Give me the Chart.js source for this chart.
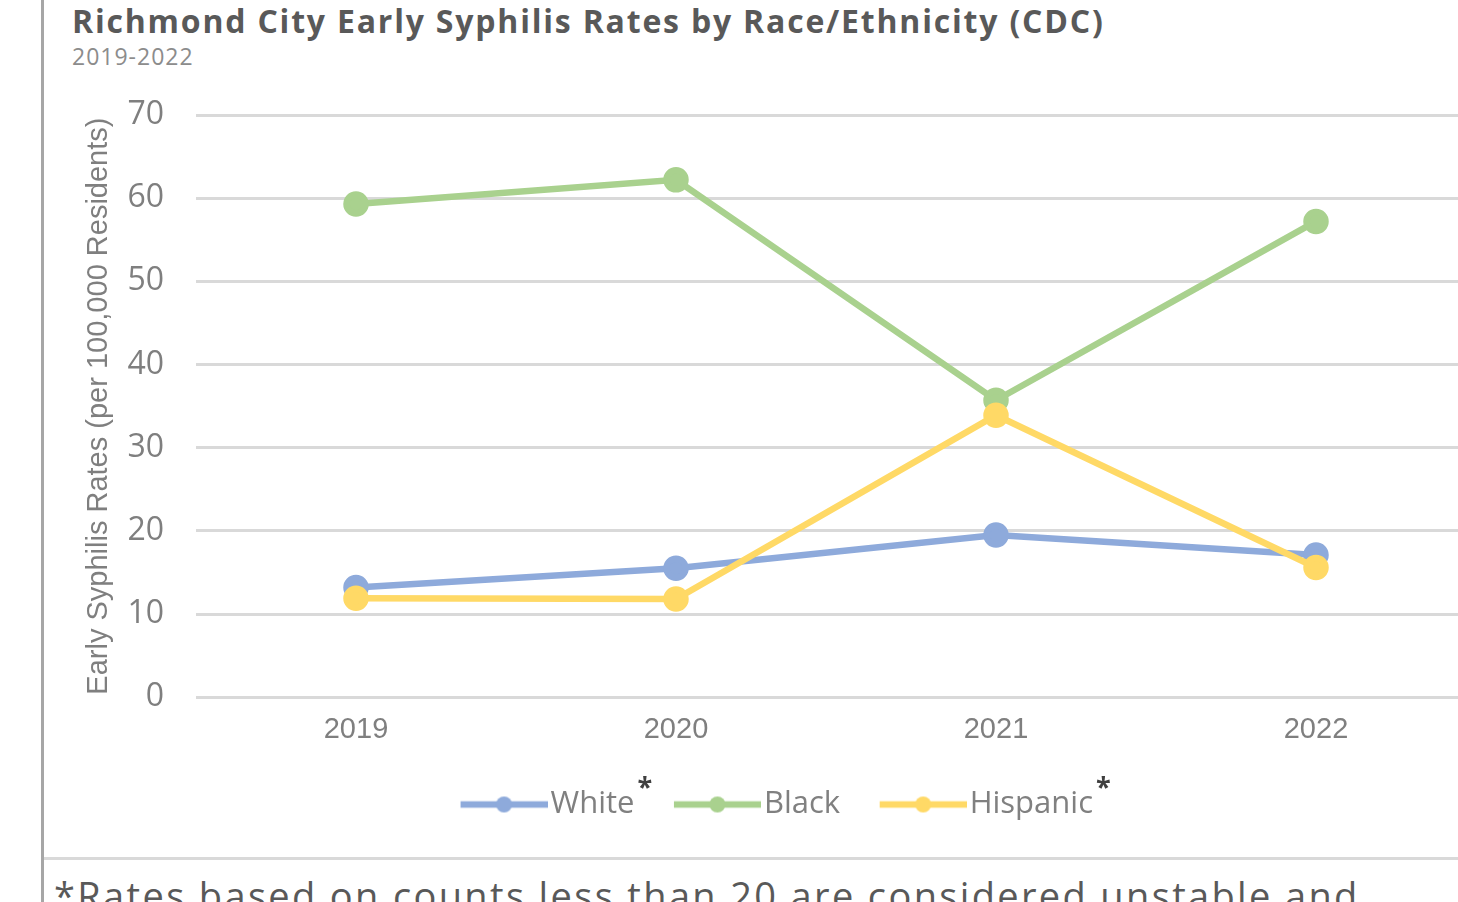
<!DOCTYPE html>
<html>
<head>
<meta charset="utf-8">
<script src="https://cdn.jsdelivr.net/npm/chart.js@4.4.1/dist/chart.umd.min.js"></script>
<style>
  html, body { margin: 0; padding: 0; background: #fff; overflow: hidden; }
  body { width: 1458px; height: 902px; position: relative; }
  .frame-left { position: absolute; left: 41px; top: 0; width: 3px; height: 902px; background: #a6a6a6; }
  .divider { position: absolute; left: 44px; top: 857px; width: 1414px; height: 3px; background: #d9d9d9; }
  .title { position: absolute; left: 72px; top: -1px; font: bold 32px "Open Sans", sans-serif; color: #595959; white-space: nowrap; letter-spacing: 1.8px; }
  .subtitle { position: absolute; left: 72px; top: 40px; font: 23px "Open Sans", sans-serif; color: #8c8c8c; white-space: nowrap; letter-spacing: 1px; }
  .note { position: absolute; left: 54px; top: 869px; font: 38px "Open Sans", sans-serif; color: #595959; white-space: nowrap; letter-spacing: 2.35px; }
  #wrap { position: absolute; left: 44px; top: 0; width: 1448px; height: 850px; }
</style>
</head>
<body>
<div class="frame-left"></div>
<div class="title">Richmond City Early Syphilis Rates by Race/Ethnicity (CDC)</div>
<div class="subtitle">2019-2022</div>
<div id="wrap"><canvas id="c"></canvas></div>
<div class="divider"></div>
<div class="note">*Rates based on counts less than 20 are considered unstable and</div>
<script>
// Early syphilis rates per 100,000 residents, Richmond City
const years = ['2019', '2020', '2021', '2022'];
const white = [13.2, 15.5, 19.5, 17.1];
const black = [59.3, 62.2, 35.7, 57.2];
const hispanic = [11.9, 11.8, 33.9, 15.6];
const seriesNames = ['White', 'Black', 'Hispanic'];
const unstableSeries = ['White', 'Hispanic']; // flagged with an asterisk in the legend
const yTicks = [0, 10, 20, 30, 40, 50, 60, 70];

const colors = { White: '#8eaadb', Black: '#a9d18e', Hispanic: '#ffd966' };
const drawOrder = { White: 2, Black: 1, Hispanic: 0 }; // Hispanic line sits on top

function ds(label, data) {
  return {
    label, data, order: drawOrder[label],
    borderColor: colors[label], backgroundColor: colors[label],
    pointBackgroundColor: colors[label], pointBorderColor: colors[label],
    borderWidth: 6.5, pointRadius: 9.5, pointHoverRadius: 9.5, tension: 0
  };
}

// Legend swatch: a line segment with a round marker, offset so the text sits close to it
const LEG_FONT = 31;
const LEG_BOX = 104;          // legend box width used by the layout
const LEG_OVER = 12.5;        // how far the swatch extends past each side of the box
const LEG_LINE = 87;          // visible swatch length
function swatch(color) {
  const c = document.createElement('canvas');
  c.width = LEG_BOX + 2 * LEG_OVER;
  c.height = 20;
  const g = c.getContext('2d');
  const x1 = c.width, x0 = x1 - LEG_LINE;
  g.strokeStyle = color; g.lineWidth = 6.5;
  g.beginPath(); g.moveTo(x0, 10); g.lineTo(x1, 10); g.stroke();
  g.fillStyle = color;
  g.beginPath(); g.arc((x0 + x1) / 2, 10, 8, 0, Math.PI * 2); g.fill();
  return c;
}

// Draws the asterisk after the flagged legend entries
const asteriskPlugin = {
  id: 'legendAsterisk',
  afterDraw(chart) {
    const lg = chart.legend;
    if (!lg || !lg.legendHitBoxes) return;
    const ctx = chart.ctx;
    ctx.save();
    ctx.font = 'bold 27px "Open Sans", sans-serif';
    ctx.fillStyle = '#404040';
    ctx.textBaseline = 'top';
    lg.legendItems.forEach((item, i) => {
      if (!unstableSeries.includes(item.text)) return;
      const hb = lg.legendHitBoxes[i];
      ctx.fillText('*', hb.left + hb.width + 3, hb.top - 14);
    });
    ctx.restore();
  }
};

new Chart(document.getElementById('c'), {
  type: 'line',
  data: {
    labels: years,
    datasets: [ds(seriesNames[0], white), ds(seriesNames[1], black), ds(seriesNames[2], hispanic)]
  },
  plugins: [asteriskPlugin],
  options: {
    responsive: true, maintainAspectRatio: false, animation: false,
    layout: { padding: { top: 115, left: 0, right: 12, bottom: 20 } },
    plugins: {
      tooltip: { enabled: false },
      legend: {
        position: 'bottom',
        labels: {
          usePointStyle: true,
          pointStyleWidth: LEG_BOX,
          boxHeight: 20,
          font: { size: LEG_FONT, family: '"Open Sans", sans-serif' },
          color: '#808080',
          padding: 10,
          generateLabels(chart) {
            return chart.data.datasets.map((d, i) => ({
              text: d.label, fillStyle: d.borderColor, strokeStyle: d.borderColor,
              pointStyle: swatch(d.borderColor),
              lineWidth: 0, hidden: false, datasetIndex: i, fontColor: '#808080'
            }));
          }
        }
      }
    },
    scales: {
      x: {
        offset: true,
        grid: { display: false },
        border: { display: false },
        afterFit(scale) { scale.height += 25; },
        ticks: { color: '#7f7f7f', font: { size: 29, family: '"Liberation Sans", Arial, sans-serif' }, padding: 7 }
      },
      y: {
        min: 0, max: 70,
        afterBuildTicks(scale) { scale.ticks = yTicks.map(v => ({ value: v })); },
        afterFit(scale) { scale.width = 152; },
        grid: { color: '#d9d9d9', lineWidth: 3, drawTicks: false },
        border: { display: false },
        ticks: { color: '#7f7f7f', font: { size: 32, family: '"Open Sans", sans-serif' }, padding: 32 },
        title: {
          display: true,
          text: 'Early Syphilis Rates (per 100,000 Residents)',
          color: '#7f7f7f',
          font: { size: 29, family: '"Liberation Sans", Arial, sans-serif' },
          padding: { top: 38, bottom: 0 }
        }
      }
    }
  }
});
</script>
</body>
</html>
